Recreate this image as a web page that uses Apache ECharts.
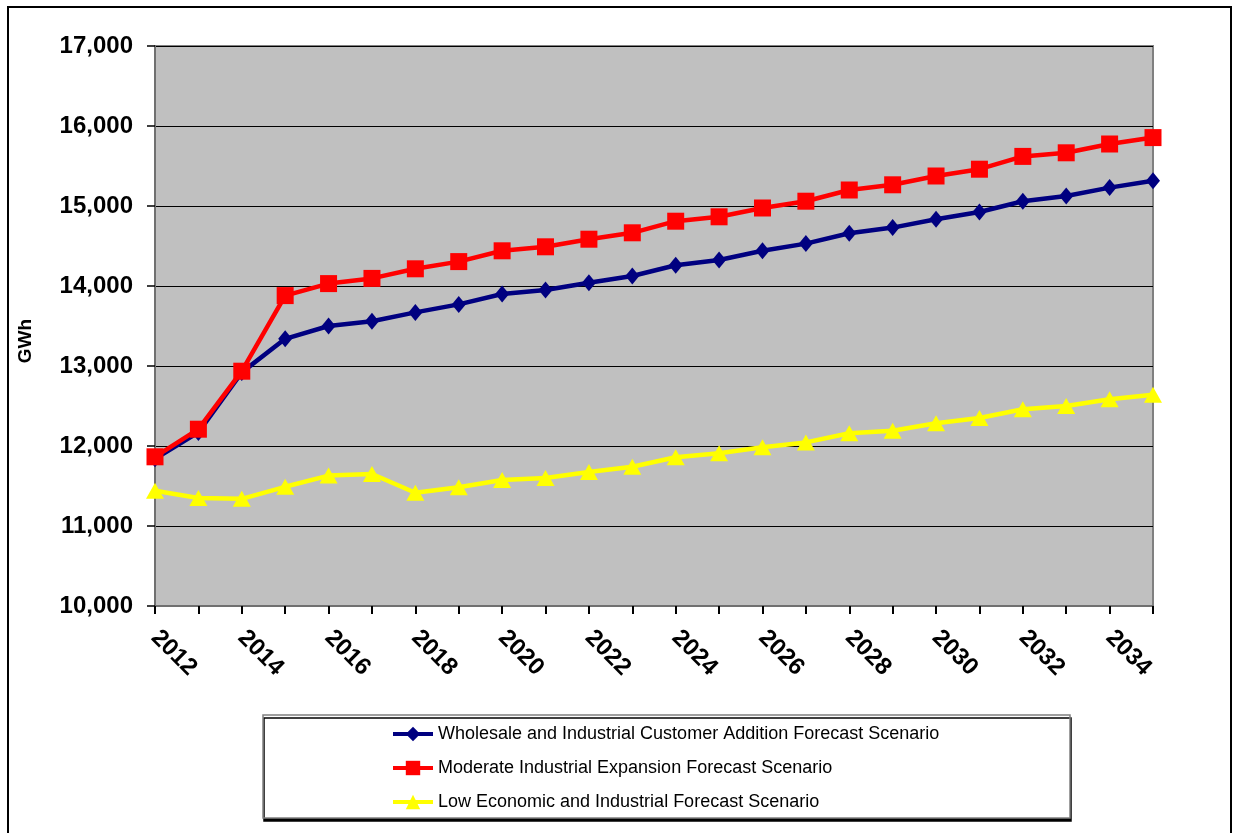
<!DOCTYPE html>
<html>
<head>
<meta charset="utf-8">
<script src="https://cdn.jsdelivr.net/npm/echarts@6/dist/echarts.min.js"></script>
<style>
  html, body { margin: 0; padding: 0; background: #fff; }
  #chart { width: 1233px; height: 833px; }
</style>
</head>
<body>
<div id="chart"></div>
<script>
// years along the x axis
const years = ['2012', '2013', '2014', '2015', '2016', '2017', '2018', '2019', '2020', '2021', '2022', '2023',
  '2024', '2025', '2026', '2027', '2028', '2029', '2030', '2031', '2032', '2033', '2034', '2035'];

// GWh
const wholesale = [11840, 12170, 12920, 13340, 13500, 13560, 13670, 13770, 13900, 13950, 14040, 14125,
  14260, 14325, 14440, 14530, 14660, 14730, 14835, 14925, 15060, 15125, 15230, 15315];
const moderate = [11865, 12210, 12935, 13880, 14030, 14095, 14215, 14305, 14440, 14490, 14585, 14665,
  14810, 14865, 14975, 15060, 15200, 15265, 15375, 15460, 15620, 15665, 15775, 15855];
const low = [11440, 11350, 11340, 11490, 11630, 11650, 11415, 11485, 11575, 11600, 11675, 11740,
  11860, 11910, 11985, 12045, 12160, 12190, 12285, 12350, 12460, 12500, 12585, 12640];

const seriesNames = [
  'Wholesale and Industrial Customer Addition Forecast Scenario',
  'Moderate Industrial Expansion Forecast Scenario',
  'Low Economic and Industrial Forecast Scenario',
];

const font = "'Liberation Sans', Arial, sans-serif";

const chart = echarts.init(document.getElementById('chart'), null, { renderer: 'canvas' });

const lineSeries = (name, data, color, symbol, symbolSize) => ({
  name,
  type: 'line',
  data,
  symbol,
  symbolSize,
  itemStyle: { color },
  lineStyle: { color, width: 4.5 },
  animation: false,
});

chart.setOption({
  animation: false,
  textStyle: { fontFamily: font },
  graphic: [
    {
      type: 'rect',
      shape: { x: 8, y: 7, width: 1223, height: 840 },
      style: { fill: 'none', stroke: '#000', lineWidth: 2 },
      z: -10,
    },
    {
      type: 'rect',
      shape: { x: 263, y: 715, width: 807, height: 103 },
      style: {
        fill: '#fff', stroke: '#808080', lineWidth: 1.5,
        shadowColor: '#000', shadowBlur: 0, shadowOffsetX: 1, shadowOffsetY: 3,
      },
      z: -5,
    },
    {
      type: 'text',
      x: 26,
      y: 341,
      rotation: Math.PI / 2,
      style: {
        text: 'GWh', fill: '#000', font: 'bold 19px ' + font,
        align: 'center', verticalAlign: 'middle',
      },
    },
  ],
  grid: {
    left: 155,
    right: 80,
    top: 46,
    bottom: 227,
    show: true,
    backgroundColor: '#c0c0c0',
    borderColor: '#808080',
    borderWidth: 2,
  },
  legend: {
    orient: 'vertical',
    left: 386,
    top: 720,
    itemWidth: 40,
    itemHeight: 18,
    itemGap: 16,
    lineStyle: { width: 4 },
    textStyle: { fontSize: 18, color: '#000', fontFamily: font },
    data: seriesNames,
  },
  xAxis: {
    type: 'category',
    data: years,
    boundaryGap: false,
    axisLine: { lineStyle: { color: '#707070', width: 2 } },
    axisTick: { interval: 0, length: 8, lineStyle: { color: '#000', width: 2 } },
    axisLabel: {
      interval: 1,
      rotate: -45,
      margin: 28,
      fontSize: 24,
      fontWeight: 'bold',
      color: '#000',
      fontFamily: font,
    },
    splitLine: { show: false },
  },
  yAxis: {
    type: 'value',
    min: 10000,
    max: 17000,
    interval: 1000,
    axisLine: { show: true, lineStyle: { color: '#707070', width: 2 } },
    axisTick: { show: true, length: 8, lineStyle: { color: '#000', width: 1.5 } },
    axisLabel: {
      margin: 22,
      fontSize: 24,
      fontWeight: 'bold',
      color: '#000',
      fontFamily: font,
      formatter: (v) => v.toLocaleString('en-US'),
    },
    splitLine: { lineStyle: { color: '#000', width: 1 } },
  },
  series: [
    lineSeries(seriesNames[0], wholesale, '#000080', 'diamond', [14, 17]),
    lineSeries(seriesNames[1], moderate, '#ff0000', 'rect', 17),
    lineSeries(seriesNames[2], low, '#ffff00', 'triangle', [18, 16]),
  ],
});
</script>
</body>
</html>
